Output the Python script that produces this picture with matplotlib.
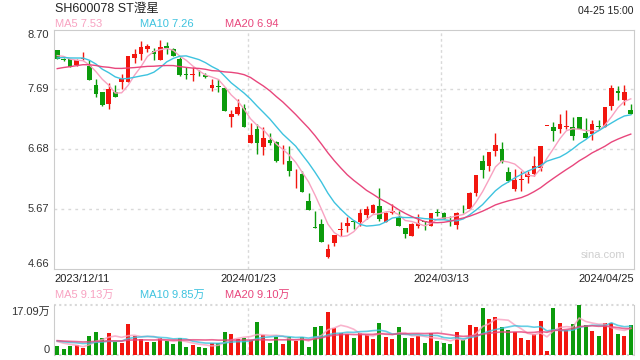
import numpy as np
import pandas as pd
import matplotlib
matplotlib.use('Agg')
import matplotlib.pyplot as plt
import matplotlib.transforms as mtransforms

plt.rcParams['font.family'] = ['Liberation Sans', 'Noto Sans CJK SC', 'DejaVu Sans']

# daily K-line, 2023/12/11 .. 2024/04/25
opens = [8.35, 8.21, 8.21, 8.10, 8.21, 8.09, 7.76, 7.65, 7.44, 7.65,
         7.81, 7.81, 8.22, 8.28, 8.37, 8.33, 8.19, 8.42, 8.37, 8.21,
         7.94, 7.93, 7.97, 7.93, 7.71, 7.75, 7.72, 7.23, 7.27, 7.38,
         6.78, 7.02, 6.71, 6.83, 6.81, 6.46, 6.49, 6.24, 6.26, 5.81,
         5.37, 5.42, 4.86, 5.10, 5.32, 5.38, 5.46, 5.45, 5.57, 5.61,
         5.73, 5.46, 5.60, 5.53, 5.36, 5.22, 5.38, 5.46, 5.39, 5.62,
         5.61, 5.48, 5.40, 5.71, 5.67, 5.94, 6.49, 6.40, 6.65, 6.68,
         6.30, 6.01, 6.16, 6.21, 6.26, 6.37, 7.07, 7.06, 7.03, 7.06,
         7.05, 7.23, 6.95, 6.93, 7.08, 7.05, 7.41, 7.66, 7.51, 7.35]
highs = [8.35, 8.22, 8.21, 8.21, 8.32, 8.18, 7.87, 7.65, 7.79, 7.76,
         7.95, 8.26, 8.37, 8.50, 8.46, 8.39, 8.53, 8.49, 8.38, 8.23,
         8.07, 8.06, 8.01, 7.97, 7.86, 7.86, 7.73, 7.35, 7.53, 7.45,
         7.13, 7.10, 7.05, 6.96, 6.82, 6.75, 6.73, 6.34, 6.31, 5.94,
         5.64, 5.51, 5.08, 5.23, 5.46, 5.53, 5.49, 5.67, 5.73, 5.75,
         6.03, 5.62, 5.75, 5.64, 5.36, 5.43, 5.59, 5.47, 5.61, 5.67,
         5.62, 5.56, 5.62, 5.74, 5.96, 6.25, 6.58, 6.64, 6.95, 6.81,
         6.38, 6.34, 6.31, 6.31, 6.57, 6.73, 7.07, 7.14, 7.27, 7.34,
         7.23, 7.23, 7.20, 7.17, 7.17, 7.39, 7.77, 7.75, 7.76, 7.45]
lows = [8.21, 8.17, 8.06, 8.09, 8.18, 7.85, 7.56, 7.41, 7.36, 7.56,
        7.70, 7.81, 8.14, 8.19, 8.32, 8.19, 8.19, 8.28, 8.25, 7.91,
        7.87, 7.83, 7.91, 7.89, 7.67, 7.64, 7.32, 7.06, 7.25, 7.06,
        6.78, 6.60, 6.58, 6.76, 6.47, 6.43, 6.23, 6.03, 5.96, 5.66,
        5.35, 5.11, 4.84, 5.04, 5.22, 5.29, 5.33, 5.38, 5.50, 5.61,
        5.47, 5.45, 5.59, 5.38, 5.18, 5.22, 5.35, 5.32, 5.39, 5.55,
        5.50, 5.38, 5.34, 5.60, 5.67, 5.89, 6.19, 6.31, 6.56, 6.45,
        6.12, 5.98, 5.98, 6.11, 6.23, 6.31, 7.07, 6.82, 6.96, 7.02,
        6.84, 7.03, 6.87, 6.84, 7.00, 7.05, 7.35, 7.51, 7.42, 7.27]
closes = [8.21, 8.18, 8.07, 8.19, 8.22, 7.85, 7.62, 7.42, 7.69, 7.56,
          7.87, 8.25, 8.28, 8.41, 8.42, 8.28, 8.41, 8.38, 8.26, 7.93,
          7.93, 7.94, 7.96, 7.90, 7.76, 7.73, 7.32, 7.27, 7.40, 7.06,
          6.92, 6.78, 6.87, 6.79, 6.48, 6.47, 6.31, 6.25, 5.96, 5.66,
          5.36, 5.11, 5.00, 5.23, 5.33, 5.43, 5.45, 5.60, 5.67, 5.74,
          5.50, 5.61, 5.64, 5.39, 5.25, 5.42, 5.43, 5.45, 5.60, 5.61,
          5.51, 5.47, 5.60, 5.70, 5.95, 6.24, 6.33, 6.63, 6.76, 6.46,
          6.14, 6.16, 6.18, 6.26, 6.40, 6.73, 7.07, 6.99, 7.10, 7.07,
          6.90, 7.03, 6.87, 7.11, 7.05, 7.39, 7.72, 7.63, 7.64, 7.27]
# volume, 万手
volumes = [3.08, 2.05, 3.08, 3.42, 2.51, 6.49, 7.86, 5.92, 7.63, 4.56,
           4.21, 10.71, 6.61, 5.35, 4.56, 4.56, 5.92, 4.78, 3.76, 5.70,
           2.85, 3.42, 2.73, 2.51, 3.99, 3.99, 7.86, 7.29, 5.35, 5.92,
           5.13, 11.28, 6.83, 4.21, 6.26, 3.87, 6.26, 4.90, 6.04, 2.85,
           9.57, 9.91, 14.81, 9.11, 7.40, 7.06, 5.70, 7.40, 6.83, 5.47,
           11.05, 6.15, 5.47, 9.57, 5.81, 5.81, 6.49, 4.10, 7.40, 4.78,
           4.10, 3.76, 7.75, 5.13, 10.25, 9.57, 16.06, 12.30, 12.98, 9.57,
           8.54, 7.97, 5.81, 5.13, 7.06, 11.62, 1.37, 16.06, 10.93, 8.54,
           10.59, 17.09, 10.25, 8.20, 6.49, 10.93, 10.93, 7.18, 6.49, 10.25]
# sessions before 12/11, only used to seed the moving averages
prev_closes = [7.80, 7.78, 7.85, 7.90, 7.88, 7.86, 7.84, 7.88, 7.92, 7.89,
               8.10, 8.15, 8.20, 8.22, 8.23, 8.25, 8.30, 8.28, 8.26]
prev_volumes = [5.0] * 19

date_labels = ['2023/12/11', '2024/01/23', '2024/03/13', '2024/04/25']
date_idx = [0, 30, 60, 89]
price_ticks = [4.66, 5.67, 6.68, 7.69, 8.70]

RED = '#f2160f'
GREEN = '#0c9b0c'
C5, C10, C20 = '#f8a2c1', '#3ec3df', '#e8467c'
GRID = '#d9d9d9'

n = len(closes)
x = np.arange(n)
cl = pd.Series(prev_closes + closes)
vo = pd.Series(prev_volumes + volumes)
ma = {k: cl.rolling(k).mean().values[-n:] for k in (5, 10, 20)}
vma = {k: vo.rolling(k).mean().values[-n:] for k in (5, 10, 20)}

o = np.array(opens); c = np.array(closes)
h = np.array(highs); l = np.array(lows)
up = c >= o
cols = np.where(up, RED, GREEN)

fig = plt.figure(figsize=(6.4, 3.6), dpi=100)
ax = fig.add_axes([54/640, 1-269/360, 580/640, 239.5/360])
axv = fig.add_axes([54/640, 1-355/360, 580/640, 50/360])

ax.vlines(x, l, h, colors=cols, lw=1, zorder=3)
ax.bar(x, np.maximum(np.abs(c-o), 0.012), bottom=np.minimum(o, c), width=0.74,
       color=cols, lw=0, zorder=3)
ax.plot(x, ma[5], color=C5, lw=1, zorder=4)
ax.plot(x, ma[10], color=C10, lw=1, zorder=4)
ax.plot(x, ma[20], color=C20, lw=1, zorder=4)

ax.set_xlim(-0.5, n-0.5)
ax.set_ylim(price_ticks[0], price_ticks[-1])
ax.set_xticks([]); ax.set_yticks([])
for t in price_ticks[1:-1]:
    ax.axhline(t, color=GRID, lw=1, ls=(0, (2, 3)), zorder=1)
for s in ax.spines.values():
    s.set_color('#cccccc')
tr = mtransforms.blended_transform_factory(ax.transAxes, ax.transData)
for i, t in enumerate(price_ticks):
    va = 'bottom' if i == 0 else ('top' if i == len(price_ticks)-1 else 'center')
    ax.text(-0.008, t, f'{t:.2f}', transform=tr, ha='right', va=va, fontsize=8, color='#333333')

trx = mtransforms.blended_transform_factory(ax.transData, ax.transAxes)
for i, (d, lab) in enumerate(zip(date_idx, date_labels)):
    if i == 0:
        ax.text(-0.5, -0.02, lab, transform=trx, ha='left', va='top', fontsize=8, color='#222222')
    elif i == len(date_idx)-1:
        ax.text(n-0.5, -0.02, lab, transform=trx, ha='right', va='top', fontsize=8, color='#222222')
    else:
        ax.axvline(d-0.4, color=GRID, lw=1, ls=(0, (2, 2)), zorder=1)
        axv.axvline(d-0.4, color=GRID, lw=1, ls=(0, (2, 2)), zorder=1)
        ax.text(d-0.4, -0.02, lab, transform=trx, ha='center', va='top', fontsize=8, color='#222222')

ax.text(0.985, 0.06, 'sina.com', transform=ax.transAxes, ha='right', va='center',
        fontsize=8, color='#cfcfcf')

# volume panel
axv.bar(x, volumes, width=0.62, color=cols, lw=0, zorder=3)
axv.plot(x, vma[5], color=C5, lw=1.2, alpha=0.8, zorder=4)
axv.plot(x, vma[10], color=C10, lw=1.2, alpha=0.8, zorder=4)
axv.plot(x, vma[20], color=C20, lw=1.2, alpha=0.8, zorder=4)
vmax = max(volumes)
axv.set_xlim(-0.5, n-0.5)
axv.set_ylim(0, vmax)
axv.set_xticks([]); axv.set_yticks([])
for side in ('top', 'bottom'):
    axv.spines[side].set_visible(False)
for side in ('left', 'right'):
    axv.spines[side].set_color('#cccccc')
axv.axhline(vmax, color=GRID, lw=1.5, ls=(0, (1, 1.5)), zorder=2, clip_on=False)
axv.axhline(0, color=GRID, lw=1.5, ls=(0, (1, 1.5)), zorder=2, clip_on=False)
trv = mtransforms.blended_transform_factory(axv.transAxes, axv.transData)
axv.text(-0.008, vmax * 0.97, f'{vmax:.2f}万', transform=trv, ha='right', va='top', fontsize=8, color='#333333')
axv.text(-0.008, 0, '0', transform=trv, ha='right', va='bottom', fontsize=8, color='#333333')

# headers
fig.text(55/640, 1-9/360, 'SH600078 ST澄星', fontsize=9, va='center', color='#222222')
fig.text(634/640, 1-11/360, '04-25 15:00', fontsize=7.5, va='center', ha='right', color='#222222')
for xp, lab, col in [(55, f'MA5 {ma[5][-1]:.2f}', C5), (140, f'MA10 {ma[10][-1]:.2f}', C10),
                     (225, f'MA20 {ma[20][-1]:.2f}', C20)]:
    fig.text(xp/640, 1-24/360, lab, fontsize=8, va='center', color=col)
for xp, lab, col in [(55, 'MA5 9.13万', C5), (140, 'MA10 9.85万', C10), (225, 'MA20 9.10万', C20)]:
    fig.text(xp/640, 1-295/360, lab, fontsize=8, va='center', color=col)

fig.savefig('out.png', dpi=100)
